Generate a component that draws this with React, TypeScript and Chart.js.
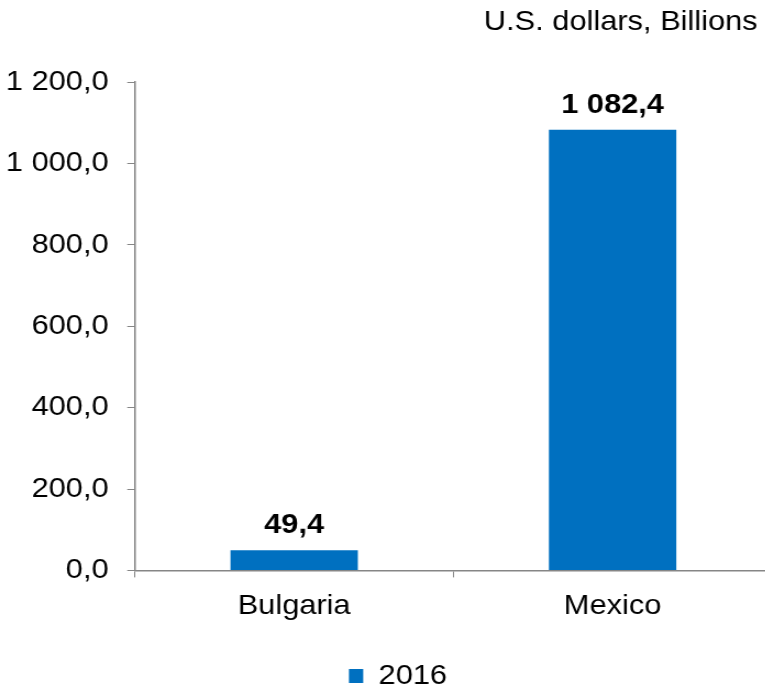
import React, { useEffect, useRef } from "react";
import { Chart, registerables } from "chart.js";

Chart.register(...registerables);

const categories = ["Bulgaria", "Mexico"];
const seriesLabel = "2016";
const values2016 = [49.4, 1082.4];
const unitTitle = "U.S. dollars, Billions";
const yMin = 0;
const yMax = 1200;
const yStep = 200;

const FONT = "Arial, 'Liberation Sans', sans-serif";
const BLUE = "#0070C0";
const AXIS = "#868686";
const STRETCH = 1.1; // horizontal stretch of the reference rendering
const RIGHT_SPACER = 22;
const INNER_W = Math.round(772 / STRETCH) + RIGHT_SPACER;
const CSS_W = INNER_W * STRETCH;
const CSS_H = 700;

function fmt(v: number): string {
  const fixed = Math.abs(v).toFixed(1);
  const [intPart, dec] = fixed.split(".");
  const withSpaces = intPart.replace(/\B(?=(\d{3})+(?!\d))/g, " ");
  return (v < 0 ? "-" : "") + withSpaces + "," + dec;
}

const extrasPlugin = {
  id: "extras",
  afterDatasetsDraw(chart: any) {
    const { ctx } = chart;
    ctx.save();
    ctx.fillStyle = "#000";
    ctx.font = `bold 28px ${FONT}`;
    ctx.textAlign = "center";
    ctx.textBaseline = "alphabetic";
    const meta = chart.getDatasetMeta(0);
    meta.data.forEach((bar: any, i: number) => {
      ctx.fillText(fmt(values2016[i]), bar.x, bar.y - 17);
    });
    ctx.font = `28px ${FONT}`;
    ctx.textAlign = "right";
    ctx.textBaseline = "middle";
    ctx.fillText(unitTitle, 758 / STRETCH, 22);
    ctx.restore();
  },
};

export default function App() {
  const ref = useRef<HTMLCanvasElement>(null);
  useEffect(() => {
    if (!ref.current) return;
    const chart = new Chart(ref.current, {
      type: "bar",
      data: {
        labels: categories,
        datasets: [
          {
            label: seriesLabel,
            data: values2016,
            backgroundColor: BLUE,
            borderWidth: 0,
            categoryPercentage: 0.8,
            barPercentage: 0.5,
            yAxisID: "y",
          },
        ],
      },
      options: {
        animation: false,
        responsive: false,
        maintainAspectRatio: false,
        devicePixelRatio: 1,
        layout: { padding: { top: 82, left: 0, right: 0, bottom: 0 } },
        plugins: {
          title: { display: false },
          tooltip: { enabled: false },
          legend: {
            display: true,
            position: "bottom",
            labels: {
              color: "#000",
              font: { family: FONT, size: 28 },
              boxWidth: 13,
              boxHeight: 14,
              padding: 27,
            },
          },
        },
        scales: {
          x: {
            grid: {
              display: true,
              drawOnChartArea: false,
              drawTicks: true,
              tickLength: 7,
              color: AXIS,
              offset: true,
            },
            border: { display: true, color: AXIS, width: 1.5 },
            ticks: {
              color: "#000",
              font: { family: FONT, size: 28 },
              padding: 12,
            },
          },
          y: {
            min: yMin,
            max: yMax,
            afterFit(scale: any) {
              scale.width = 135 / STRETCH;
            },
            grid: {
              display: true,
              drawOnChartArea: false,
              drawTicks: true,
              tickLength: 7,
              color: AXIS,
            },
            border: { display: true, color: AXIS, width: 1.5 },
            ticks: {
              stepSize: yStep,
              color: "#000",
              font: { family: FONT, size: 28 },
              padding: 17,
              callback: (v: any) => fmt(Number(v)),
            },
          },
          spacer: {
            type: "linear",
            position: "right",
            min: yMin,
            max: yMax,
            afterFit(scale: any) {
              scale.width = RIGHT_SPACER;
            },
            grid: { display: false, drawTicks: false },
            border: { display: false },
            ticks: { display: false },
          },
        },
      },
      plugins: [extrasPlugin],
    });
    return () => chart.destroy();
  }, []);
  return (
    <div
      style={{
        position: "fixed",
        left: 0,
        top: 0,
        width: 765,
        height: 687,
        overflow: "hidden",
        background: "#fff",
      }}
    >
      <canvas
        ref={ref}
        width={INNER_W}
        height={CSS_H}
        style={{ display: "block", width: CSS_W, height: CSS_H }}
      />
    </div>
  );
}
